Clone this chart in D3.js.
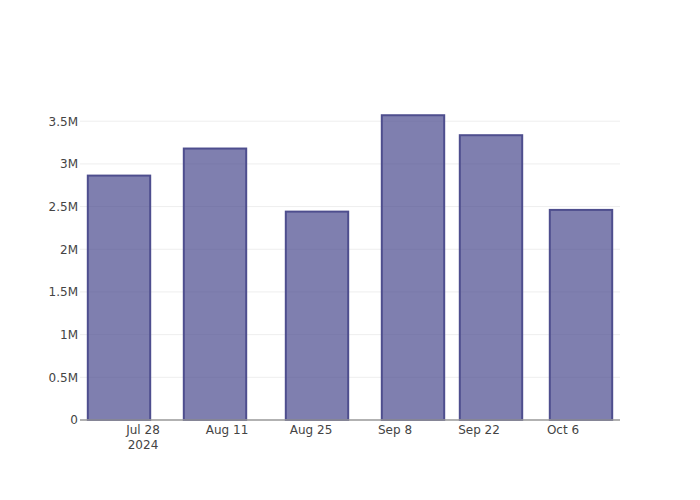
<!DOCTYPE html>
<html>
<head>
<meta charset="utf-8">
<script src="https://cdn.jsdelivr.net/npm/d3@7"></script>
<style>
  html, body { margin: 0; padding: 0; background: #fff; }
  svg { display: block; font-family: "DejaVu Sans", Verdana, sans-serif; }
</style>
</head>
<body>
<svg id="chart" width="700" height="500"></svg>
<script>
// ---- data ----
const dates = ["2024-07-24", "2024-08-09", "2024-08-26", "2024-09-11", "2024-09-24", "2024-10-09"];
const values = [2863000, 3180000, 2441000, 3570000, 3336000, 2461000];
const xTickDates = ["2024-07-28", "2024-08-11", "2024-08-25", "2024-09-08", "2024-09-22", "2024-10-06"];
const yTickValues = [0, 500000, 1000000, 1500000, 2000000, 2500000, 3000000, 3500000];
const yTickLabels = ["0", "0.5M", "1M", "1.5M", "2M", "2.5M", "3M", "3.5M"];

// ---- layout ----
const W = 700, H = 500;
const margin = { left: 80, right: 80, top: 100, bottom: 80 };
const plotW = W - margin.left - margin.right;
const plotH = H - margin.top - margin.bottom;

const svg = d3.select("#chart");
const g = svg.append("g").attr("transform", `translate(${margin.left},${margin.top})`);

const parse = d3.utcParse("%Y-%m-%d");
const dts = dates.map(parse);
const day = 24 * 3600 * 1000;

// bar width = 0.8 * min spacing
let minGap = Infinity;
for (let i = 1; i < dts.length; i++) minGap = Math.min(minGap, dts[i] - dts[i - 1]);
const barW = 0.8 * minGap;

const x = d3.scaleUtc()
  .domain([new Date(+dts[0] - barW / 2 - 1.3 * day), new Date(+dts[dts.length - 1] + barW / 2 + 1.3 * day)])
  .range([0, plotW]);

const y = d3.scaleLinear()
  .domain([0, d3.max(values) * 1.05])
  .range([plotH, 0]);

// gridlines
g.append("g")
  .selectAll("line")
  .data(yTickValues.filter(v => v > 0))
  .join("line")
  .attr("x1", 0).attr("x2", plotW)
  .attr("y1", d => y(d)).attr("y2", d => y(d))
  .attr("stroke", "#eeeeee")
  .attr("stroke-width", 1);

// bars (semi-transparent fill so gridlines show through)
g.append("g")
  .selectAll("rect")
  .data(values.map((v, i) => ({ d: dts[i], v })))
  .join("rect")
  .attr("x", d => x(new Date(+d.d - barW / 2)))
  .attr("width", d => x(new Date(+d.d + barW / 2)) - x(new Date(+d.d - barW / 2)))
  .attr("y", d => y(d.v))
  .attr("height", d => y(0) - y(d.v))
  .attr("fill", "rgb(72,72,141)")
  .attr("fill-opacity", 0.7)
  .attr("stroke", "#4e4e8e")
  .attr("stroke-width", 2);

// bottom axis line
g.append("line")
  .attr("x1", 0).attr("x2", plotW)
  .attr("y1", plotH).attr("y2", plotH)
  .attr("stroke", "#999999")
  .attr("stroke-width", 1.5);

// y tick labels
const yAxis = d3.axisLeft(y)
  .tickValues(yTickValues)
  .tickFormat((d, i) => yTickLabels[i])
  .tickSize(0)
  .tickPadding(2);
const ya = g.append("g").call(yAxis);
ya.select(".domain").remove();
ya.selectAll("text").attr("font-size", 12).attr("fill", "#444").attr("font-family", "DejaVu Sans, sans-serif");

// x tick labels
const fmt = d3.utcFormat("%b %-d");
const xa = g.append("g").attr("transform", `translate(0,${plotH})`);
const xt = xa.selectAll("g")
  .data(xTickDates.map(parse))
  .join("g")
  .attr("transform", d => `translate(${x(d)},0)`);
xt.append("text")
  .attr("y", 14)
  .attr("text-anchor", "middle")
  .attr("font-size", 12)
  .attr("fill", "#444")
  .text(d => fmt(d));
xt.filter((d, i) => i === 0).append("text")
  .attr("y", 29)
  .attr("text-anchor", "middle")
  .attr("font-size", 12)
  .attr("fill", "#444")
  .text(d => d3.utcFormat("%Y")(d));
</script>
</body>
</html>
